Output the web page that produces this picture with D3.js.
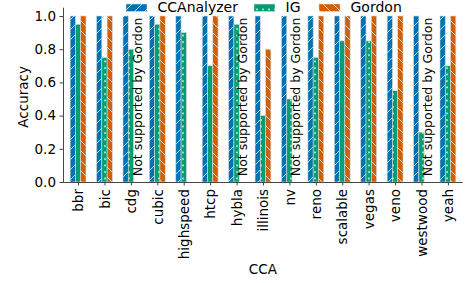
<!DOCTYPE html>
<html>
<head>
<meta charset="utf-8">
<script src="https://cdn.jsdelivr.net/npm/d3@7"></script>
<style>
  body { margin: 0; background: #fff; }
  text { font-family: 'DejaVu Sans', sans-serif; fill: #000; }
</style>
</head>
<body>
<script>
// data
var categories = ['bbr', 'bic', 'cdg', 'cubic', 'highspeed', 'htcp', 'hybla', 'illinois',
  'nv', 'reno', 'scalable', 'vegas', 'veno', 'westwood', 'yeah'];
var ccanalyzer = [1, 1, 1, 1, 1, 1, 1, 1, 1, 1, 1, 1, 1, 1, 1];
var ig = [0.95, 0.75, 0.8, 0.95, 0.9, 0.7, 0.95, 0.4, 0.5, 0.75, 0.85, 0.85, 0.55, 0.3, 0.7];
// null = not supported by Gordon (annotated), 0 = empty bar
var gordon = [1, 1, null, 1, 0, 1, null, 0.8, null, 1, 1, 1, 1, null, 1];
var series_names = ['CCAnalyzer', 'IG', 'Gordon'];
var y_ticks = [0, 0.2, 0.4, 0.6, 0.8, 1.0];

var width = 475, height = 283;
var mLeft = 63, mRight = 462.7, mTop = 7.7, mBottom = 182;
var BAR_W = 0.2;

var svg = d3.select('body').append('svg')
  .attr('width', width).attr('height', height);

var x = d3.scaleLinear().domain([-0.57, 14.56]).range([mLeft, mRight]);
var y = d3.scaleLinear().domain([0, 1.05]).range([mBottom, mTop]);

// hatch patterns
var defs = svg.append('defs');
var hatchCol = '#e0e0e0';
var P = 10;
var p1 = defs.append('pattern').attr('id', 'h_fwd').attr('patternUnits', 'userSpaceOnUse')
  .attr('width', P).attr('height', P);
p1.append('rect').attr('width', P).attr('height', P).attr('fill', '#0173b2');
p1.append('path').attr('d', 'M-2,2 L2,-2 M0,' + P + ' L' + P + ',0 M' + (P - 2) + ',' + (P + 2) + ' L' + (P + 2) + ',' + (P - 2))
  .attr('stroke', hatchCol).attr('stroke-width', 0.9);

var p2 = defs.append('pattern').attr('id', 'h_dot').attr('patternUnits', 'userSpaceOnUse')
  .attr('width', 6).attr('height', 6.5);
p2.append('rect').attr('width', 6).attr('height', 6.5).attr('fill', '#029e73');
p2.append('circle').attr('cx', 3).attr('cy', 3).attr('r', 0.9).attr('fill', '#f4f4f4');

var p3 = defs.append('pattern').attr('id', 'h_back').attr('patternUnits', 'userSpaceOnUse')
  .attr('width', P).attr('height', P);
p3.append('rect').attr('width', P).attr('height', P).attr('fill', '#d55e00');
p3.append('path').attr('d', 'M-2,' + (P - 2) + ' L2,' + (P + 2) + ' M0,0 L' + P + ',' + P + ' M' + (P - 2) + ',-2 L' + (P + 2) + ',2')
  .attr('stroke', hatchCol).attr('stroke-width', 0.9);

var fills = ['url(#h_fwd)', 'url(#h_dot)', 'url(#h_back)'];
var all = [ccanalyzer, ig, gordon];

// bars
for (var s = 0; s < 3; s++) {
  var off = (s - 1) * BAR_W;
  svg.append('g').selectAll('rect')
    .data(all[s].map(function(v, i) { return { i: i, v: v }; }).filter(function(d) { return d.v; }))
    .enter().append('rect')
    .attr('x', function(d) { return x(d.i + off - BAR_W / 2); })
    .attr('width', x(BAR_W) - x(0))
    .attr('y', function(d) { return y(d.v); })
    .attr('height', function(d) { return y(0) - y(d.v); })
    .attr('fill', fills[s])
    .attr('stroke', '#d8d8d8').attr('stroke-width', 0.6);
}

// not supported annotations
gordon.forEach(function(v, i) {
  if (v !== null) return;
  var tx = x(i + BAR_W) + 5.5, ty = y(0.035);
  svg.append('text')
    .attr('transform', 'translate(' + tx + ',' + ty + ') rotate(-90)')
    .style('font-size', '12.5px')
    .text('Not supported by Gordon');
});

// axes
var yAxis = d3.axisLeft(y).tickValues(y_ticks).tickFormat(d3.format('.1f'))
  .tickSize(3.5).tickPadding(3.5);
var gy = svg.append('g').attr('transform', 'translate(' + mLeft + ',0)').call(yAxis);
gy.select('.domain').attr('d', 'M0.5,' + mTop + 'V' + mBottom);

var xAxis = d3.axisBottom(x).tickValues(d3.range(categories.length))
  .tickFormat(function(i) { return categories[i]; })
  .tickSize(3.5).tickPadding(3.5);
var gx = svg.append('g').attr('transform', 'translate(0,' + mBottom + ')').call(xAxis);
gx.select('.domain').attr('d', 'M' + mLeft + ',0.5H' + mRight);
gx.selectAll('.tick text')
  .attr('transform', 'rotate(-90)')
  .attr('x', -7).attr('y', 0).attr('dy', '0.35em')
  .attr('text-anchor', 'end');

svg.selectAll('.domain, .tick line').attr('stroke', '#333').attr('stroke-width', 0.9);
svg.selectAll('.tick text').style('font-size', '13.5px').attr('fill', '#000')
  .style('font-family', "'DejaVu Sans', sans-serif");

// axis labels
svg.append('text')
  .attr('transform', 'translate(28,' + ((mTop + mBottom) / 2 + 2) + ') rotate(-90)')
  .attr('text-anchor', 'middle')
  .style('font-size', '13.5px')
  .text('Accuracy');
svg.append('text')
  .attr('x', (mLeft + mRight) / 2).attr('y', 274)
  .attr('text-anchor', 'middle')
  .style('font-size', '13.5px')
  .text('CCA');

// legend
var legend_x = [126, 254, 319];
series_names.forEach(function(name, k) {
  var g = svg.append('g').attr('transform', 'translate(' + legend_x[k] + ',0)');
  g.append('rect').attr('x', 0).attr('y', 4).attr('width', 21).attr('height', 7.5)
    .attr('fill', fills[k]).attr('stroke', '#d8d8d8').attr('stroke-width', 0.6);
  g.append('text').attr('x', 31.5).attr('y', 12.3)
    .style('font-size', '14px')
    .text(name);
});
</script>
</body>
</html>
